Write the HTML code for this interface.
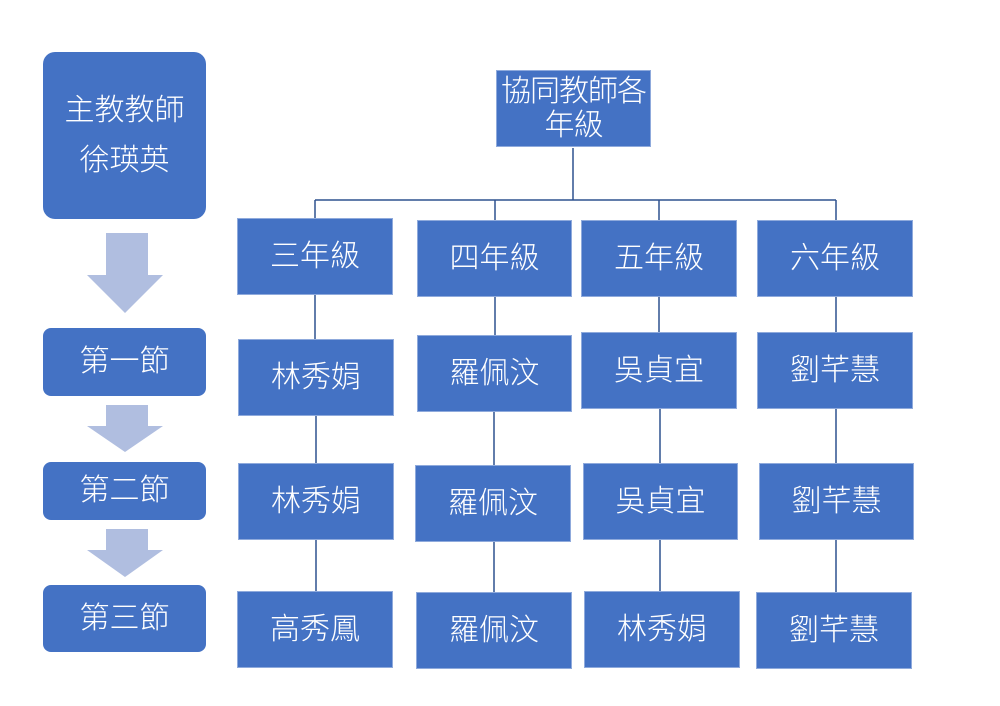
<!DOCTYPE html>
<html><head><meta charset="utf-8"><style>
body{margin:0;width:1000px;height:706px;background:#fff;position:relative;overflow:hidden;font-family:"Liberation Sans","Noto Sans CJK TC",sans-serif;}
.b{position:absolute;background:#4472C4;border:1px solid #8FAADC;box-sizing:border-box;color:#fff;display:flex;align-items:center;justify-content:center;text-align:center;font-size:30px;line-height:36px;font-weight:300;}
.r{border-radius:12px;border:none}
svg{position:absolute;left:0;top:0}
</style></head><body>
<svg width="1000" height="706">
<g stroke="#2F528F" stroke-width="1.5" fill="none">
<path d="M573 148V200M315 200H836M315 200V218M495 200V220M659 200V220M836 200V220"/>
<path d="M315 295V339M495 297V335M659 297V332M836 297V332"/>
<path d="M316 416V463M494 412V465M660 409V463M836 409V463"/>
<path d="M316 540V591M494 542V592M660 540V591M836 540V592"/>
</g>
<g fill="#B0BEE0">
<polygon points="106,233 148,233 148,275 163,275 125,313 87,275 106,275"/>
<polygon points="106,405 148,405 148,426 163,426 125,452 87,426 106,426"/>
<polygon points="106,529 148,529 148,550 163,550 125,577 87,550 106,550"/>
</g>
</svg>
<div class="b r" style="left:43px;top:52px;width:163px;height:167px;line-height:50px;font-size:30px">主教教師<br>徐瑛英</div>
<div class="b r" style="left:43px;top:328px;width:163px;height:68px;border-radius:8px">第一節</div>
<div class="b r" style="left:43px;top:462px;width:163px;height:58px;border-radius:8px">第二節</div>
<div class="b r" style="left:43px;top:585px;width:163px;height:67px;border-radius:8px">第三節</div>
<div class="b" style="left:496px;top:70px;width:155px;height:77px;line-height:34px;font-size:30px;letter-spacing:-1px">協同教師各<br>年級</div>
<div class="b" style="left:237px;top:218px;width:156px;height:77px">三年級</div>
<div class="b" style="left:417px;top:220px;width:155px;height:77px">四年級</div>
<div class="b" style="left:581px;top:220px;width:156px;height:77px">五年級</div>
<div class="b" style="left:757px;top:220px;width:156px;height:77px">六年級</div>
<div class="b" style="left:238px;top:339px;width:156px;height:77px">林秀娟</div>
<div class="b" style="left:417px;top:335px;width:155px;height:77px">羅佩汶</div>
<div class="b" style="left:581px;top:332px;width:156px;height:77px">吳貞宜</div>
<div class="b" style="left:757px;top:332px;width:156px;height:77px">劉芊慧</div>
<div class="b" style="left:238px;top:463px;width:156px;height:77px">林秀娟</div>
<div class="b" style="left:415px;top:465px;width:156px;height:77px">羅佩汶</div>
<div class="b" style="left:583px;top:463px;width:155px;height:77px">吳貞宜</div>
<div class="b" style="left:759px;top:463px;width:155px;height:77px">劉芊慧</div>
<div class="b" style="left:237px;top:591px;width:156px;height:77px">高秀鳳</div>
<div class="b" style="left:416px;top:592px;width:156px;height:77px">羅佩汶</div>
<div class="b" style="left:584px;top:591px;width:156px;height:77px">林秀娟</div>
<div class="b" style="left:756px;top:592px;width:156px;height:77px">劉芊慧</div>
</body></html>
